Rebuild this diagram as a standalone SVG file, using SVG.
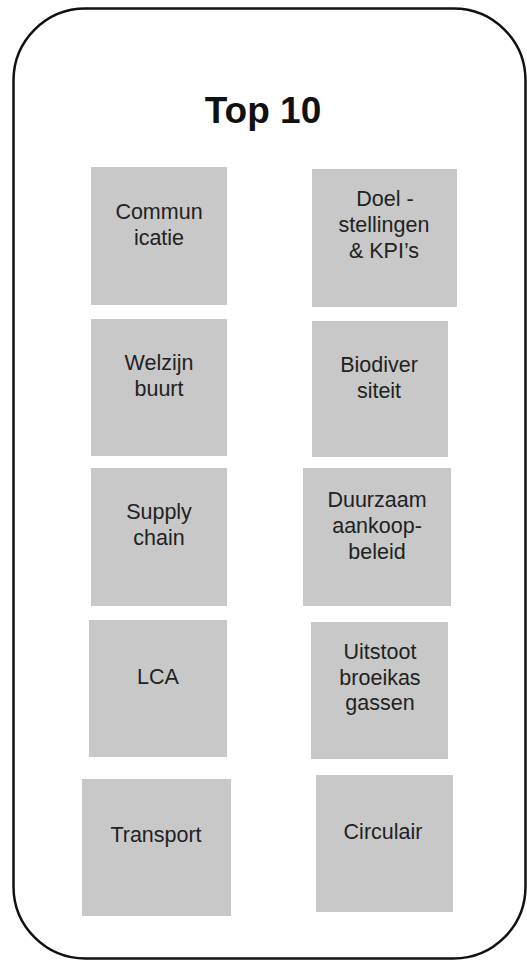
<svg xmlns="http://www.w3.org/2000/svg" width="527" height="962" viewBox="0 0 527 962">
<style>
.frame{fill:#fff;stroke:#111;stroke-width:2.5}
.box{fill:#c8c8c8}
.lbl{font-family:"Liberation Sans",Arial,sans-serif;font-size:21.5px;fill:#222;text-anchor:middle}
.title{font-family:"Liberation Sans",Arial,sans-serif;font-size:37px;font-weight:bold;fill:#111;text-anchor:middle}
</style>
<rect width="527" height="962" fill="#fff"/>
<g id="frame">
<rect class="frame" x="13.5" y="8.5" width="512" height="950" rx="72" ry="72"/>
<text class="title" x="263" y="123">Top 10</text>
</g>
<g id="connectors"></g>
<g id="n1"><rect class="box" x="91" y="167" width="136" height="138"/>
<text class="lbl" x="159" y="219">Commun</text><text class="lbl" x="159" y="245">icatie</text></g>
<g id="n2"><rect class="box" x="312" y="169" width="145" height="138"/>
<text class="lbl" x="385" y="206">Doel -</text><text class="lbl" x="384" y="232">stellingen</text><text class="lbl" x="384" y="258">&amp; KPI’s</text></g>
<g id="n3"><rect class="box" x="91" y="319" width="136" height="137"/>
<text class="lbl" x="159" y="370">Welzijn</text><text class="lbl" x="159" y="396">buurt</text></g>
<g id="n4"><rect class="box" x="312" y="321" width="136" height="136"/>
<text class="lbl" x="379" y="372">Biodiver</text><text class="lbl" x="379" y="398">siteit</text></g>
<g id="n5"><rect class="box" x="91" y="468" width="136" height="138"/>
<text class="lbl" x="159" y="519">Supply</text><text class="lbl" x="159" y="545">chain</text></g>
<g id="n6"><rect class="box" x="303" y="468" width="148" height="138"/>
<text class="lbl" x="377" y="507">Duurzaam</text><text class="lbl" x="377" y="533">aankoop-</text><text class="lbl" x="377" y="559">beleid</text></g>
<g id="n7"><rect class="box" x="89" y="620" width="138" height="137"/>
<text class="lbl" x="158" y="684">LCA</text></g>
<g id="n8"><rect class="box" x="311" y="622" width="137" height="137"/>
<text class="lbl" x="380" y="659">Uitstoot</text><text class="lbl" x="380" y="685">broeikas</text><text class="lbl" x="380" y="710">gassen</text></g>
<g id="n9"><rect class="box" x="82" y="779" width="149" height="137"/>
<text class="lbl" x="156" y="842">Transport</text></g>
<g id="n10"><rect class="box" x="316" y="775" width="137" height="137"/>
<text class="lbl" x="383" y="839">Circulair</text></g>
</svg>
